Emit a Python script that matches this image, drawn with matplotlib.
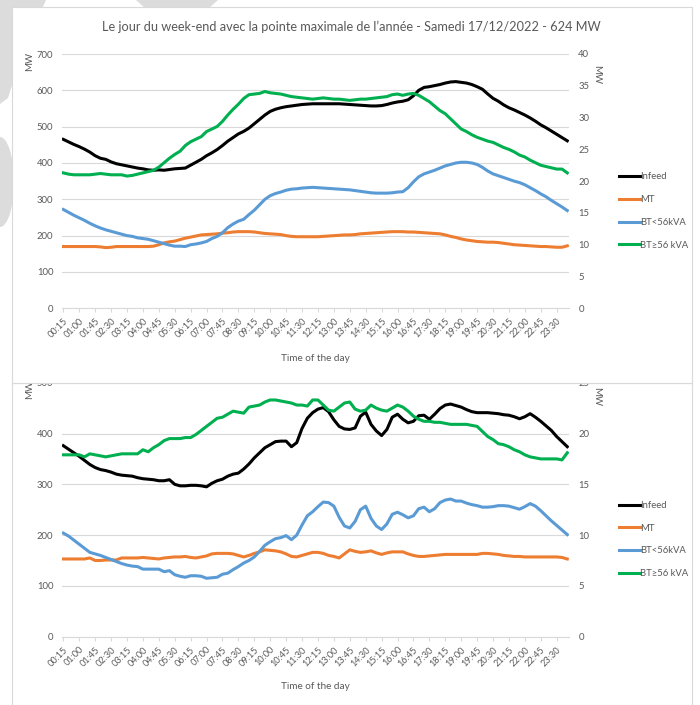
import matplotlib
matplotlib.use("Agg")
import matplotlib.pyplot as plt
from matplotlib.patches import Rectangle, Polygon, Ellipse

plt.rcParams['font.family'] = ['Lato', 'DejaVu Sans']

# 15-minute steps, 00:15 .. 24:00
times = ["%02d:%02d" % (((k + 1) * 15 // 60) % 24, (k + 1) * 15 % 60) for k in range(96)]

# --- Samedi 17/12/2022 (MW) ---
top_infeed = [465, 458, 451, 445, 438, 430, 420, 413, 410, 403, 398, 395,
              392, 389, 386, 384, 381, 380, 381, 380, 382, 384, 385, 386,
              394, 402, 410, 420, 428, 437, 448, 460, 470, 480, 487, 496,
              508, 520, 532, 542, 548, 552, 555, 557, 559, 561, 562, 563,
              563, 563, 563, 563, 563, 562, 561, 560, 559, 558, 557, 557,
              558, 561, 565, 568, 570, 574, 585, 600, 608, 610, 613, 616,
              620, 623, 624, 622, 620, 616, 610, 603, 590, 578, 570, 560,
              552, 546, 539, 532, 524, 515, 505, 497, 488, 479, 470, 461]
top_mt = [170, 170, 170, 170, 170, 170, 170, 169, 167, 168, 170, 170,
          170, 170, 170, 170, 170, 171, 175, 180, 183, 185, 189, 193,
          196, 199, 202, 203, 204, 205, 207, 208, 210, 211, 211, 211,
          210, 208, 206, 205, 204, 203, 200, 198, 197, 197, 197, 197,
          197, 198, 199, 200, 201, 202, 202, 203, 205, 206, 207, 208,
          209, 210, 211, 211, 211, 210, 210, 209, 208, 207, 206, 205,
          202, 198, 195, 191, 188, 186, 184, 183, 182, 182, 181, 179,
          177, 175, 174, 173, 172, 171, 170, 170, 169, 168, 168, 172]
top_bt_small = [272, 264, 256, 249, 242, 234, 227, 221, 216, 212, 208, 204,
                200, 198, 194, 192, 190, 186, 182, 178, 174, 171, 171, 170,
                175, 177, 180, 184, 192, 198, 208, 222, 232, 240, 245, 258,
                270, 285, 300, 310, 316, 320, 325, 328, 329, 331, 332, 333,
                332, 331, 330, 329, 328, 327, 326, 324, 322, 320, 318, 317,
                317, 317, 318, 320, 321, 332, 348, 362, 370, 375, 380, 386,
                392, 396, 400, 402, 402, 400, 396, 388, 378, 370, 365, 360,
                355, 350, 346, 340, 332, 324, 315, 307, 297, 288, 279, 269]
# secondary axis
top_bt_large = [21.3, 21.1, 21.0, 21.0, 21.0, 21.0, 21.1, 21.2, 21.1, 21.0, 21.0, 21.0,
                20.8, 20.9, 21.1, 21.3, 21.5, 21.7, 22.2, 22.9, 23.6, 24.2, 24.7, 25.6,
                26.2, 26.6, 27.0, 27.8, 28.2, 28.6, 29.4, 30.4, 31.3, 32.1, 33.0, 33.6,
                33.7, 33.8, 34.1, 33.9, 33.8, 33.7, 33.5, 33.3, 33.2, 33.1, 33.0, 32.9,
                33.0, 33.1, 33.0, 32.9, 32.9, 32.8, 32.7, 32.8, 32.9, 32.9, 33.0, 33.1,
                33.2, 33.3, 33.6, 33.7, 33.5, 33.7, 33.8, 33.5, 33.0, 32.5, 31.8, 31.1,
                30.6, 29.8, 29.0, 28.2, 27.8, 27.3, 26.9, 26.6, 26.3, 26.1, 25.7, 25.3,
                25.0, 24.6, 24.1, 23.8, 23.3, 22.9, 22.5, 22.3, 22.1, 21.9, 21.9, 21.3]

# --- second day (bottom chart) ---
bot_infeed = [376, 369, 362, 355, 347, 339, 333, 329, 327, 324, 320, 318,
              317, 316, 313, 311, 310, 309, 307, 307, 309, 300, 297, 297,
              298, 298, 297, 295, 302, 307, 310, 316, 320, 322, 330, 340,
              352, 362, 372, 378, 384, 385, 385, 374, 382, 410, 430, 441,
              448, 451, 443, 427, 414, 409, 408, 411, 434, 442, 418, 405,
              396, 408, 432, 438, 428, 421, 424, 435, 436, 428, 438, 449,
              456, 458, 455, 452, 447, 443, 441, 441, 441, 440, 439, 437,
              436, 433, 429, 433, 439, 432, 424, 415, 406, 394, 384, 374]
bot_mt = [153, 153, 153, 153, 153, 155, 150, 150, 151, 151, 151, 155,
          155, 155, 155, 156, 155, 154, 153, 155, 156, 157, 157, 158,
          156, 155, 157, 159, 163, 164, 164, 164, 163, 160, 157, 160,
          164, 167, 171, 170, 169, 167, 163, 158, 157, 160, 163, 166,
          166, 164, 160, 158, 155, 163, 171, 168, 166, 167, 169, 165,
          162, 165, 167, 167, 167, 163, 160, 158, 158, 159, 160, 161,
          162, 162, 162, 162, 162, 162, 162, 164, 164, 163, 162, 160,
          159, 158, 158, 157, 157, 157, 157, 157, 157, 157, 156, 153]
bot_bt_small = [204, 198, 190, 182, 174, 166, 163, 160, 156, 152, 148, 144,
                141, 139, 138, 133, 133, 133, 133, 128, 130, 122, 119, 117,
                120, 120, 119, 115, 116, 117, 123, 125, 132, 138, 145, 150,
                157, 168, 180, 187, 193, 195, 199, 191, 200, 220, 238, 246,
                256, 265, 264, 257, 235, 218, 214, 227, 250, 257, 233, 218,
                211, 222, 241, 245, 240, 234, 238, 252, 255, 246, 252, 264,
                269, 271, 267, 267, 263, 260, 258, 255, 255, 256, 258, 258,
                257, 254, 251, 256, 262, 257, 248, 238, 228, 219, 210, 201]
bot_bt_large = [17.9, 17.9, 17.9, 17.9, 17.7, 18.0, 17.9, 17.8, 17.7, 17.8, 17.9, 18.0,
                18.0, 18.0, 18.0, 18.4, 18.2, 18.6, 18.9, 19.3, 19.5, 19.5, 19.5, 19.6,
                19.6, 19.9, 20.3, 20.7, 21.1, 21.5, 21.6, 21.9, 22.2, 22.1, 22.0, 22.6,
                22.7, 22.8, 23.1, 23.3, 23.3, 23.2, 23.1, 23.0, 22.8, 22.8, 22.7, 23.3,
                23.3, 22.8, 22.3, 22.2, 22.6, 23.0, 23.1, 22.4, 22.2, 22.3, 22.8, 22.5,
                22.3, 22.2, 22.5, 22.8, 22.6, 22.2, 21.7, 21.4, 21.2, 21.2, 21.1, 21.1,
                21.0, 20.9, 20.9, 20.9, 20.9, 20.8, 20.7, 20.2, 19.7, 19.4, 19.0, 18.9,
                18.7, 18.4, 18.2, 17.9, 17.7, 17.6, 17.5, 17.5, 17.5, 17.5, 17.4, 18.1]

labels = ['Infeed', 'MT', 'BT<56kVA', 'BT≥56 kVA']
colors = ['#000000', '#ED7D31', '#5B9BD5', '#00B050']
title = "Le jour du week-end avec la pointe maximale de l’année - Samedi 17/12/2022 - 624 MW"

TXT = '#595959'
GRID = '#d9d9d9'
W, H = 700, 705


def fx(x):
    return x / W


def fy(y):
    return 1 - y / H


fig = plt.figure(figsize=(7, 7.05), dpi=100)
fig.patch.set_facecolor('white')

# grey shapes from the page behind the charts
deco = dict(transform=fig.transFigure, fc='#dcdcdc', ec='none', zorder=0.05)
fig.add_artist(Polygon([(fx(0), fy(0)), (fx(46), fy(0)), (fx(20), fy(60)),
                        (fx(8), fy(98)), (fx(0), fy(104))], **deco))
fig.add_artist(Polygon([(fx(136), fy(0)), (fx(218), fy(0)), (fx(208), fy(9)),
                        (fx(146), fy(9))], **deco))
fig.add_artist(Ellipse((fx(0), fy(182)), 28 / W, 90 / H, **deco))

# chart frames
fig.add_artist(Rectangle((fx(12), fy(720)), 680 / W, (720 - 383) / H, transform=fig.transFigure,
                         fc='white', ec=GRID, lw=0.8, zorder=0.1))
fig.add_artist(Rectangle((fx(12), fy(383)), 680 / W, (383 - 7) / H, transform=fig.transFigure,
                         fc='white', ec=GRID, lw=0.8, zorder=2))

fig.text(fx(351), fy(27), title, ha='center', va='center', fontsize=9.2, color=TXT, zorder=4)


def make_chart(rect, z, infeed, mt, bt_small, bt_large, ymax, ymax2, mw_right_y, legend_y):
    ax = fig.add_axes(rect, zorder=z)
    ax2 = ax.twinx()
    ax2.set_zorder(z + 0.5)
    ax2.patch.set_visible(False)
    x = range(len(times))
    l1, = ax.plot(x, infeed, color=colors[0], lw=2.2)
    l2, = ax.plot(x, mt, color=colors[1], lw=2.2)
    l3, = ax.plot(x, bt_small, color=colors[2], lw=2.2)
    l4, = ax2.plot(x, bt_large, color=colors[3], lw=2.2)

    ax.set_xlim(-0.19, 95.38)
    ax.set_ylim(0, ymax)
    ax2.set_ylim(0, ymax2)
    ax.set_yticks(range(0, ymax + 1, 100))
    ax2.set_yticks(range(0, ymax2 + 1, 5))
    ax.grid(axis='y', color=GRID, lw=0.8)
    ax.set_axisbelow(True)
    for a in (ax, ax2):
        for s in a.spines.values():
            s.set_visible(False)
    ax.spines['bottom'].set_visible(True)
    ax.spines['bottom'].set_color(GRID)
    ax.spines['bottom'].set_linewidth(0.8)

    ax.set_xticks(range(0, 96, 3))
    ax.set_xticklabels(times[0:96:3], rotation=45, ha='right', va='top', rotation_mode='anchor')
    ax.tick_params(axis='x', length=3, color=GRID, width=0.8, pad=3, labelsize=6.6, labelcolor=TXT)
    ax.tick_params(axis='y', length=0, pad=6.5, labelsize=6.8, labelcolor=TXT)
    ax2.tick_params(axis='y', length=0, pad=6.5, labelsize=6.8, labelcolor=TXT)

    ax.set_xlabel('Time of the day', fontsize=7.2, color=TXT)
    ax.xaxis.set_label_coords(0.5, -0.18)
    ax.text(-0.0637, 0.972, 'MW', transform=ax.transAxes, rotation=90, ha='center', va='center',
            fontsize=7, color=TXT)
    ax2.text(1.053, mw_right_y, 'MW', transform=ax2.transAxes, rotation=270, ha='center',
             va='center', fontsize=7, color=TXT)

    fig.legend([l1, l2, l3, l4], labels, loc='center left', bbox_to_anchor=(fx(619), fy(legend_y)),
               bbox_transform=fig.transFigure, frameon=False, fontsize=6.8, handlelength=2.2,
               handletextpad=0.05, labelspacing=1.45, borderpad=0, borderaxespad=0,
               labelcolor=TXT).set_zorder(z + 0.8)
    return ax


make_chart([fx(62.3), fy(308.3), 507 / W, 254.3 / H], 3, top_infeed, top_mt, top_bt_small,
           top_bt_large, 700, 40, 0.921, 211)
make_chart([fx(62.3), fy(636.7), 507 / W, 254 / H], 1, bot_infeed, bot_mt, bot_bt_small,
           bot_bt_large, 500, 25, 0.944, 539.5)

fig.savefig('out.png', dpi=100)
